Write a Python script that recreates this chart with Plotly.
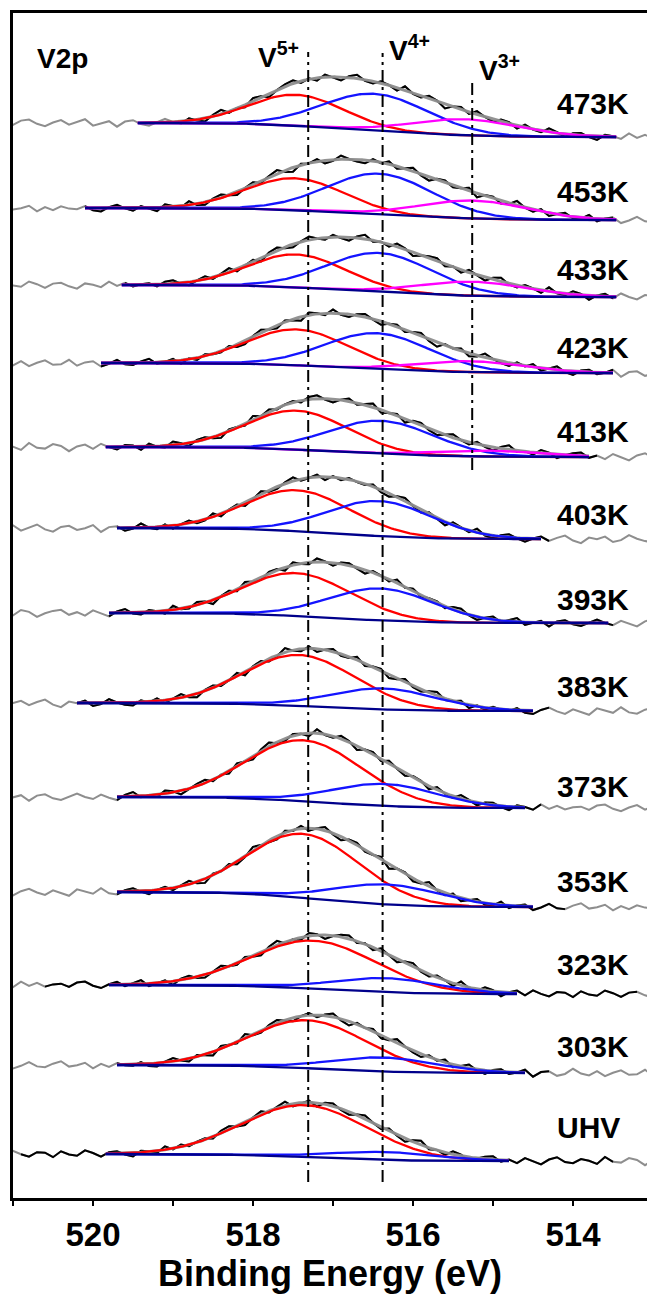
import numpy as np
import plotly.graph_objects as go

# ---------------- data ----------------
labels = ["473K", "453K", "433K", "423K", "413K", "403K", "393K",
          "383K", "373K", "353K", "323K", "303K", "UHV"]
# baseline level on the high-BE (left) and low-BE (right) side, intensity units
base_left = [1075, 990, 913, 835, 751, 670, 585, 495, 401, 306, 213, 133, 44]
base_right = [1061, 978, 901, 825, 741, 659, 575, 487, 390, 291, 204, 125, 37]
# V5+ component
v5_center = [517.45, 517.47, 517.45, 517.45, 517.45, 517.45, 517.46,
             517.42, 517.37, 517.37, 517.24, 517.32, 517.35]
v5_height = [31, 32, 33, 36, 39, 41, 43, 51, 61, 64, 48, 48, 52]
v5_fwhm = [1.40, 1.45, 1.45, 1.50, 1.50, 1.55, 1.60, 1.65, 1.70, 1.65, 1.85, 1.75, 1.85]
# V4+ component
v4_center = [516.48, 516.42, 516.42, 516.45, 516.40, 516.42, 516.40,
             516.37, 516.35, 516.32, 516.32, 516.37, 516.37]
v4_height = [37, 41, 39, 36, 33, 35, 32, 21, 22, 20, 14, 14, 8]
v4_fwhm = [1.55] * 13
# V3+ component (only the five hottest spectra)
v3_center = [515.35, 515.25, 515.25, 515.30, 515.10]
v3_height = [16, 18, 14, 11, 6]
v3_fwhm = [1.60, 1.60, 1.60, 1.60, 1.60]
# fitted (background) window and measured-data window, eV
bg_hi = [519.45, 520.1, 519.65, 519.9, 519.85, 519.7, 519.8, 520.2, 519.7, 519.7, 519.8, 519.7, 519.85]
bg_lo = [513.45, 513.45, 513.45, 513.5, 513.8, 514.4, 513.55, 514.5, 514.6, 514.5, 514.7, 514.6, 514.8]
raw_hi = [518.9, 520.1, 519.65, 519.9, 519.85, 519.7, 519.8, 520.2, 519.7, 519.7, 520.6, 519.7, 520.9]
raw_lo = [513.45, 513.5, 513.45, 513.5, 513.7, 514.3, 513.5, 514.3, 514.4, 514.1, 513.2, 514.3, 513.5]
scatter = [1.3, -1.9, 2.4, 3.4, -0.8, -3.2, 0.5, 2.9, -1.6, 1.0, 3.8, -2.6, -0.6, 1.8,
           -3.7, 1.4, 2.7, -1.3, -3.0, 0.6, 3.5, 0.0, -2.1, 2.2, -1.0, -3.4, 1.6, 4.2,
           -1.4, 0.3, -2.4, 3.0, 1.1, -3.8, -0.3, 2.1, 3.2, -1.8, 0.8, -2.7, 2.6, -0.5,
           -3.5, 1.4, 3.7, -1.1, -2.2, 1.9, 0.2, -2.9, 4.0, -0.8, -1.6, 2.9, 1.0, -4.2,
           0.5, 2.4, -1.9, 3.2, -0.2, -2.6, 1.8, 1.3, -3.2, 2.7, -0.6, -1.8, 3.5, 0.8,
           -3.0, 1.4, 2.2, -1.3, -3.7, 1.6, 0.3, -2.2, 3.4, -1.0, 2.1, -1.6, 0.6]
# reference energies of the oxidation states
ref_lines = {"V5+": 517.31, "V4+": 516.38, "V3+": 515.26}
label_px = [103, 191, 269, 347, 431, 514, 599, 686, 786, 881, 964, 1046, 1127]

# ---------------- figure ----------------
FONT = "Arial, 'Liberation Sans', Helvetica, sans-serif"
RED, BLUE, MAG, NAVY = "#ff0000", "#1414ff", "#ff00ff", "#00008b"
GREY, BLACK = "#8e8e8e", "#000000"

x_fine = np.round(np.arange(521.1, 512.89, -0.02), 3)
x_raw = np.array([521.1 - 0.1 * i for i in range(len(scatter))])
scatter_arr = np.array(scatter)


def gauss(x, c, h, fwhm):
    s = fwhm / 2.3548
    return h * np.exp(-0.5 * ((x - c) / s) ** 2)


fig = go.Figure()

for k, lab in enumerate(labels):
    comps = [(v5_center[k], v5_height[k], v5_fwhm[k], RED),
             (v4_center[k], v4_height[k], v4_fwhm[k], BLUE)]
    if k < len(v3_center):
        comps.append((v3_center[k], v3_height[k], v3_fwhm[k], MAG))

    def model_parts(x):
        return [gauss(x, c, h, w) for c, h, w, _ in comps]

    # Shirley-type background on the fine grid
    inwin = (x_fine <= bg_hi[k]) & (x_fine >= bg_lo[k])
    tot = np.sum(model_parts(x_fine), axis=0)
    tot_w = np.where(inwin, tot, 0.0)
    cum = np.cumsum(tot_w[::-1])[::-1]
    frac = cum / cum.max()
    bg = base_right[k] + (base_left[k] - base_right[k]) * frac
    bg = np.where(x_fine > bg_hi[k], base_left[k], bg)
    bg = np.where(x_fine < bg_lo[k], base_right[k], bg)
    env = bg + tot

    # measured data: envelope + scatter
    sc = np.roll(scatter_arr, 9 * k) * (1 if k % 2 == 0 else -1)
    env_raw = np.interp(x_raw[::-1], x_fine[::-1], env[::-1])[::-1]
    raw = env_raw + sc
    fig.add_trace(go.Scatter(x=x_raw, y=raw, mode="lines",
                             line=dict(color=GREY, width=2), hoverinfo="skip"))
    m = (x_raw <= raw_hi[k] + 1e-9) & (x_raw >= raw_lo[k] - 1e-9)
    fig.add_trace(go.Scatter(x=x_raw[m], y=raw[m], mode="lines",
                             line=dict(color=BLACK, width=2), hoverinfo="skip"))
    xw = x_fine[inwin]
    fig.add_trace(go.Scatter(x=xw, y=env[inwin], mode="lines",
                             line=dict(color=GREY, width=3), opacity=0.95,
                             hoverinfo="skip"))
    peaks = model_parts(xw)
    for (c, h, w, col), p in zip(comps, peaks):
        fig.add_trace(go.Scatter(x=xw, y=bg[inwin] + p, mode="lines",
                                 line=dict(color=col, width=2.3), hoverinfo="skip"))
    fig.add_trace(go.Scatter(x=xw, y=bg[inwin], mode="lines",
                             line=dict(color=NAVY, width=2.3), hoverinfo="skip"))

    fig.add_annotation(x=514.225, y=1198 - label_px[k],
                       text=lab, showarrow=False, xanchor="left", yanchor="middle",
                       font=dict(family=FONT, size=30, color=BLACK, weight="bold"))

# reference lines (dash-dot)
dash = "12px,5px,3px,5px"
fig.add_shape(type="line", x0=ref_lines["V5+"], x1=ref_lines["V5+"], y0=16, y1=1146,
              line=dict(color=BLACK, width=2, dash=dash))
fig.add_shape(type="line", x0=ref_lines["V4+"], x1=ref_lines["V4+"], y0=16, y1=1145,
              line=dict(color=BLACK, width=2, dash=dash))
fig.add_shape(type="line", x0=ref_lines["V3+"], x1=ref_lines["V3+"], y0=728, y1=1120,
              line=dict(color=BLACK, width=2, dash=dash))

ann_font = dict(family=FONT, size=28, color=BLACK, weight="bold")
fig.add_annotation(x=520.72, y=1140, text="V2p", showarrow=False,
                   xanchor="left", yanchor="middle", font=ann_font)
fig.add_annotation(x=517.96, y=1143, text="V<sup>5+</sup>", showarrow=False,
                   xanchor="left", yanchor="middle", font=ann_font)
fig.add_annotation(x=516.32, y=1150, text="V<sup>4+</sup>", showarrow=False,
                   xanchor="left", yanchor="middle", font=ann_font)
fig.add_annotation(x=515.2, y=1130, text="V<sup>3+</sup>", showarrow=False,
                   xanchor="left", yanchor="middle", font=ann_font)

fig.update_layout(
    width=647, height=1294,
    margin=dict(l=13, r=0, t=13, b=96),
    paper_bgcolor="white", plot_bgcolor="white",
    showlegend=False,
    xaxis=dict(range=[521.0, 513.075], tickmode="linear", tick0=514, dtick=2,
               ticks="outside", ticklen=5, tickwidth=2, tickcolor=BLACK,
               minor=dict(dtick=1, tick0=513, ticks="outside", ticklen=5,
                          tickwidth=2, tickcolor=BLACK),
               showline=True, linewidth=3, linecolor=BLACK, mirror=True,
               showgrid=False, zeroline=False,
               tickfont=dict(family=FONT, size=33, color=BLACK, weight="bold"),
               title=dict(text="Binding Energy (eV)", standoff=4,
                          font=dict(family=FONT, size=36, color=BLACK, weight="bold"))),
    yaxis=dict(range=[0, 1185], showticklabels=False, ticks="", showgrid=False,
               zeroline=False, showline=True, linewidth=3, linecolor=BLACK,
               mirror=False),
)

fig.write_html("out.html")
